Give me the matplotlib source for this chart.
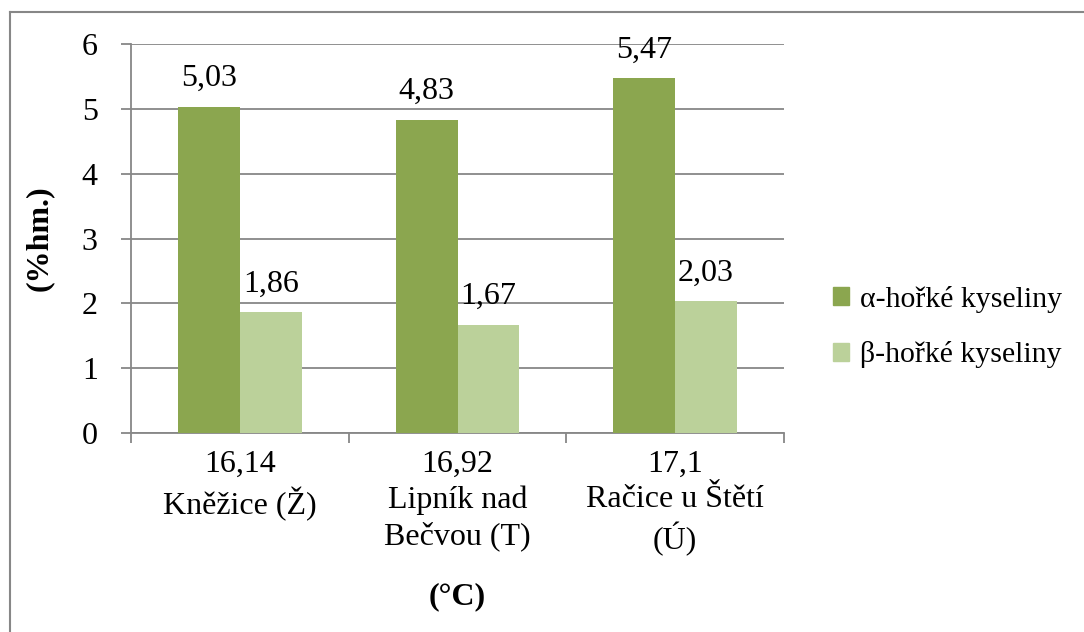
import numpy as np
import matplotlib.pyplot as plt
from matplotlib.lines import Line2D
from matplotlib.patches import Patch

plt.rcParams['font.family'] = ['Liberation Serif', 'DejaVu Serif']

# hodnoty hořkých kyselin pro jednotlivé lokality
teploty = ['16,14', '16,92', '17,1']
lokality = ['Kněžice (Ž)', 'Lipník nad\nBečvou (T)', 'Račice u Štětí\n(Ú)']
alfa = [5.03, 4.83, 5.47]
beta = [1.86, 1.67, 2.03]
nazvy_serii = ['α-hořké kyseliny', 'β-hořké kyseliny']

barva_alfa = '#8BA64F'
barva_beta = '#BBD19A'
seda = '#878787'
fs = 23

fig = plt.figure(figsize=(10.84, 6.32), dpi=100)
ax = fig.add_axes([131 / 1084, 1 - 433 / 632, 653 / 1084, 389 / 632])

x = np.arange(len(teploty)) + 0.5
w = 0.284
b1 = ax.bar(x - w / 2, alfa, w, color=barva_alfa, zorder=3)
b2 = ax.bar(x + w / 2, beta, w, color=barva_beta, zorder=3)

for bars, vals in [(b1, alfa), (b2, beta)]:
    for r, v in zip(bars, vals):
        ax.annotate(f'{v:.2f}'.replace('.', ','),
                    (r.get_x() + r.get_width() / 2, v),
                    xytext=(0, 10), textcoords='offset points',
                    ha='center', va='bottom', fontsize=fs)

ax.set_xlim(0, 3)
ax.set_ylim(0, 6)
ax.set_yticks(range(7))
ax.yaxis.grid(True, color=seda, linewidth=1.3, zorder=0)
for s in ['top', 'right']:
    ax.spines[s].set_visible(False)
for s in ['left', 'bottom']:
    ax.spines[s].set_color(seda)
    ax.spines[s].set_linewidth(1.3)

# dělící značky mezi kategoriemi
ax.set_xticks([0, 1, 2, 3])
ax.set_xticklabels([])
ax.tick_params(axis='x', length=7, width=1.3, color=seda, direction='out')
ax.tick_params(axis='y', length=7, width=1.3, color=seda, labelsize=fs, pad=17)

for xi, t, l in zip(x, teploty, lokality):
    ax.text(xi, -0.26, t + '\n' + l, ha='center', va='top', fontsize=fs,
            linespacing=1.28, transform=ax.transData)

ax.set_ylabel('(%hm.)', fontsize=fs, fontweight='bold', labelpad=20)
ax.text(1.5, -2.3, '(°C)', ha='center', va='top', fontsize=fs, fontweight='bold')

handles = [Patch(color=barva_alfa), Patch(color=barva_beta)]
fig.legend(handles, nazvy_serii, loc='center left',
           bbox_to_anchor=(818 / 1084, 1 - 327 / 632), frameon=False,
           fontsize=21.5, handlelength=0.55, handleheight=0.55,
           handletextpad=0.35, labelspacing=0.95, borderpad=0)

# rámeček grafu
fig.add_artist(Line2D([10 / 1084, 10 / 1084], [0, 1 - 12 / 632],
                      transform=fig.transFigure, color=seda, lw=1.5))
fig.add_artist(Line2D([10 / 1084, 1], [1 - 12 / 632, 1 - 12 / 632],
                      transform=fig.transFigure, color=seda, lw=1.5))

fig.savefig('out.png', dpi=100)
